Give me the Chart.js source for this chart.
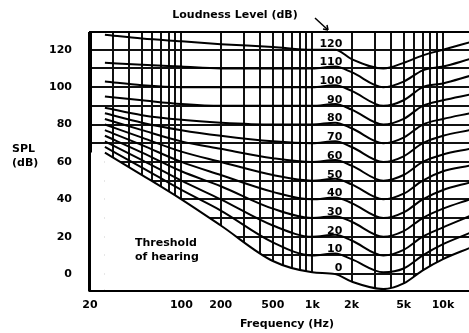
<!DOCTYPE html>
<html>
<head>
<meta charset="utf-8">
<script src="https://cdn.jsdelivr.net/npm/chart.js@4"></script>
<style>
  html,body{margin:0;padding:0;background:#fff}
  #c{display:block}
</style>
</head>
<body>
<canvas id="c" width="469" height="333"></canvas>
<script>
// equal-loudness contours, SPL (dB) at these frequencies (Hz)
const freqs = [26, 50, 100, 200, 500, 1000, 1500, 2000, 3500, 5000, 7000, 10000, 16000];
const phonLevels = [0, 10, 20, 30, 40, 50, 60, 70, 80, 90, 100, 110, 120];

const spl0   = [65, 53, 40, 26,  7,   1,   0,  -4, -8,  -5,   2,   8,  14];
const spl10  = [68, 57, 45, 34, 17,  10,  11,   8,  1,   3,  10,  16,  22];
const spl20  = [71, 61, 50, 40, 26,  20,  21,  18, 10,  13,  20,  25,  31];
const spl30  = [74, 65, 55, 47, 35,  30,  31,  28, 20,  23,  30,  35,  40];
const spl40  = [77, 69, 60, 53, 44,  40,  41,  38, 30,  33,  40,  45,  49];
const spl50  = [80, 73, 65.5, 60, 53, 50, 51,  48, 40,  43,  50,  55,  58];
const spl60  = [83, 77, 71, 67, 62,  60,  61,  58, 50,  53,  60,  64,  67];
const spl70  = [86, 81, 77, 74, 71,  70,  71,  68, 60,  63,  70,  74,  77];
const spl80  = [89, 85, 82.5, 81, 80, 80, 81,  78, 70,  73,  80,  83,  86];
const spl90  = [95, 93, 91, 90, 90,  90,  91,  88, 80,  83,  90,  93,  96];
const spl100 = [103, 101, 100, 100, 100, 100, 101, 98, 90, 93, 100, 102, 106];
const spl110 = [113, 112, 111, 110, 110, 110, 111, 108, 100, 103, 109, 111, 115];
const spl120 = [128, 126, 124.5, 123, 121.5, 120, 120, 115, 110, 113, 117, 120, 124];
const contours = [spl0, spl10, spl20, spl30, spl40, spl50, spl60, spl70, spl80, spl90, spl100, spl110, spl120];

// axes
const xGridFreqs = [20, 30, 40, 50, 60, 70, 80, 90, 100, 200, 300, 400, 500, 600, 700, 800, 900,
                    1000, 2000, 3000, 4000, 5000, 6000, 7000, 8000, 9000, 10000];
const xLabelFreqs = [20, 100, 200, 500, 1000, 2000, 5000, 10000];
const xLabelTexts = ["20", "100", "200", "500", "1k", "2k", "5k", "10k"];
const yGridValues = [0, 10, 20, 30, 40, 50, 60, 70, 80, 90, 100, 110, 120];
const yLabelValues = [0, 20, 40, 60, 80, 100, 120];
const X_MIN = 20, X_MAX = 15800, Y_MIN = -8.5, Y_MAX = 129.5;

const FAMILY = '"DejaVu Sans", Verdana, sans-serif';
const FONT = "bold 11px " + FAMILY;

const datasets = contours.map((vals, i) => ({
  label: phonLevels[i] + " phon",
  data: freqs.map((f, j) => ({ x: f, y: vals[j] })),
  borderColor: "#000",
  borderWidth: 2,
  pointRadius: 0,
  cubicInterpolationMode: "monotone",
  fill: i === 0 ? "start" : false,
  backgroundColor: "#fff"
}));
// white area under the threshold, continued to the left frame
datasets.push({
  label: "mask",
  data: [{ x: X_MIN, y: spl0[0] }, { x: freqs[0], y: spl0[0] }],
  borderWidth: 0, borderColor: "rgba(0,0,0,0)", pointRadius: 0,
  fill: "start", backgroundColor: "#fff"
});

const extras = {
  id: "extras",
  afterDraw(chart){
    const { ctx, chartArea: a, scales: { x, y } } = chart;
    ctx.save();
    // frame: top and left (left is redrawn over the white mask)
    ctx.strokeStyle = "#000"; ctx.lineWidth = 2;
    ctx.beginPath(); ctx.moveTo(a.left, a.top); ctx.lineTo(a.right, a.top); ctx.stroke();
    ctx.lineWidth = 3;
    ctx.beginPath(); ctx.moveTo(a.left - 0.5, a.top); ctx.lineTo(a.left - 0.5, a.bottom + 1.5); ctx.stroke();

    ctx.fillStyle = "#000"; ctx.font = FONT; ctx.textBaseline = "middle";
    // contour labels, right of the 1k line
    ctx.textAlign = "right";
    phonLevels.forEach(p => ctx.fillText(String(p), x.getPixelForValue(1700), y.getPixelForValue(p + 3.2)));

    // titles
    ctx.textAlign = "center";
    ctx.fillText("Loudness Level (dB)", 235, 15);
    ctx.fillText("Frequency (Hz)", 287, 324);
    ctx.textAlign = "left";
    ctx.fillText("SPL", 12, 149);
    ctx.fillText("(dB)", 12, 163);
    ctx.fillText("Threshold", 135, 243);
    ctx.fillText("of hearing", 135, 257);

    // little arrow from the title to the labels
    ctx.lineWidth = 1.5;
    ctx.beginPath(); ctx.moveTo(315, 18); ctx.lineTo(328, 30); ctx.stroke();
    ctx.beginPath(); ctx.moveTo(328, 30); ctx.lineTo(323, 29); ctx.moveTo(328, 30); ctx.lineTo(327, 25); ctx.stroke();
    ctx.restore();
  }
};

new Chart(document.getElementById("c"), {
  type: "line",
  data: { datasets },
  options: {
    responsive: false,
    animation: false,
    parsing: false,
    layout: { padding: { left: 0, right: 0, top: 32, bottom: 0 } },
    plugins: { legend: { display: false }, tooltip: { enabled: false } },
    scales: {
      x: {
        type: "logarithmic", min: X_MIN, max: X_MAX,
        afterBuildTicks: s => { s.ticks = xGridFreqs.map(v => ({ value: v })); },
        afterFit: s => { s.height = 43; },
        grid: { color: "#111", lineWidth: 2, drawTicks: false },
        border: { color: "#000", width: 3 },
        ticks: {
          autoSkip: false, maxRotation: 0, minRotation: 0, padding: 9, color: "#000",
          font: { family: FAMILY, size: 11, weight: "bold" },
          callback: v => { const k = xLabelFreqs.indexOf(v); return k < 0 ? "" : xLabelTexts[k]; }
        }
      },
      y: {
        type: "linear", min: Y_MIN, max: Y_MAX,
        afterBuildTicks: s => { s.ticks = yGridValues.map(v => ({ value: v })); },
        afterFit: s => { s.width = 90; },
        grid: { color: "#111", lineWidth: 2, drawTicks: false },
        border: { color: "#000", width: 3 },
        ticks: {
          padding: 18, color: "#000",
          font: { family: FAMILY, size: 11, weight: "bold" },
          callback: v => yLabelValues.includes(v) ? String(v) : ""
        }
      }
    }
  },
  plugins: [extras]
});
</script>
</body>
</html>
